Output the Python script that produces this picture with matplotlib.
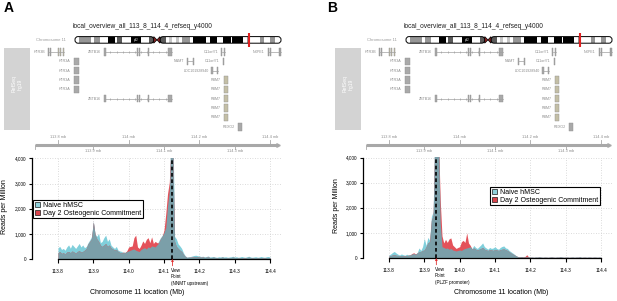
import numpy as np
import matplotlib
matplotlib.use('Agg')
import matplotlib.pyplot as plt
from matplotlib.patches import Rectangle, FancyBboxPatch, Polygon, Patch

plt.rcParams['font.family'] = ['Liberation Sans', 'DejaVu Sans']

# ---- data -------------------------------------------------------------
BIN_START = 113.800
BIN_STEP = 0.005

# panel A, viewpoint NNMT upstream
naive_a = [450, 500, 380, 420, 350, 480, 560, 430, 580, 500,
           420, 520, 620, 480, 560, 450, 500, 650, 760, 900,
           1500, 1000, 900, 1020, 650, 700, 850, 950, 700, 800,
           550, 480, 420, 500, 350, 320, 300, 260, 280, 300,
           320, 350, 380, 400, 350, 320, 300, 380, 420, 450,
           400, 480, 450, 520, 500, 480, 560, 720, 850, 950,
           1050, 1250, 2100, 2700, 5500, 5500, 900, 800, 600, 520,
           420, 250, 130, 80, 90, 100, 120, 140, 150, 130,
           120, 100, 110, 90, 100, 120, 80, 90, 100, 80,
           70, 90, 80, 100, 80, 90, 70, 80, 90, 110,
           80, 90, 70, 80, 100, 80, 70, 90, 110, 80,
           70, 80, 90, 70, 80, 100, 80, 70, 90, 100, 80]
day2_a = [250, 300, 220, 250, 200, 280, 300, 250, 320, 280,
          230, 300, 330, 280, 300, 350, 420, 600, 700, 820,
          1480, 960, 800, 700, 550, 500, 560, 620, 500, 560,
          450, 400, 360, 380, 300, 260, 240, 280, 250, 330,
          480, 500, 520, 850, 950, 480, 420, 550, 720, 620,
          780, 850, 650, 880, 620, 700, 650, 640, 800, 900,
          1150, 1800, 2600, 3050, 4500, 4200, 700, 500, 420, 350,
          300, 180, 100, 60, 70, 70, 80, 90, 100, 90,
          80, 70, 80, 60, 70, 80, 60, 60, 70, 60,
          50, 60, 60, 70, 60, 60, 50, 60, 60, 70,
          60, 60, 50, 60, 60, 50, 50, 60, 70, 60,
          50, 60, 60, 50, 60, 60, 50, 50, 60, 60, 50]

# panel B, viewpoint PLZF promoter
naive_b = [120, 160, 220, 260, 200, 150, 120, 160, 130, 110,
           150, 120, 140, 160, 180, 150, 220, 400, 300, 450,
           780, 500, 820, 700, 1650, 1850, 5500, 5500, 5000, 1400,
           450, 420, 380, 400, 350, 380, 320, 300, 280, 300,
           320, 300, 350, 380, 400, 420, 450, 380, 500, 420,
           380, 450, 520, 600, 450, 400, 350, 420, 380, 400,
           450, 380, 350, 420, 460, 480, 400, 380, 300, 250,
           200, 150, 90, 60, 50, 60, 40, 40, 50, 40,
           35, 40, 30, 45, 35, 60, 40, 30, 40, 35,
           30, 40, 50, 35, 30, 40, 35, 60, 40, 30,
           35, 40, 30, 35, 45, 30, 40, 35, 60, 30,
           35, 40, 30, 45, 35, 30, 40, 35, 30, 40, 30]
day2_b = [80, 100, 120, 130, 110, 100, 90, 100, 90, 80,
          100, 110, 120, 180, 210, 160, 200, 250, 260, 300,
          320, 450, 600, 650, 1500, 1700, 5000, 5500, 4800, 2300,
          880, 600, 740, 620, 760, 800, 520, 450, 380, 420,
          450, 650, 700, 620, 1000, 600, 500, 350, 400, 350,
          320, 350, 380, 420, 350, 320, 300, 330, 320, 300,
          340, 320, 300, 330, 350, 360, 330, 300, 250, 200,
          160, 120, 80, 50, 40, 50, 40, 60, 130, 40,
          30, 30, 25, 30, 30, 35, 30, 25, 30, 30,
          25, 30, 35, 30, 25, 30, 30, 35, 30, 25,
          30, 30, 25, 30, 30, 25, 30, 30, 35, 25,
          30, 30, 25, 30, 30, 25, 30, 30, 25, 30, 25]

VIEW_A = 114.124
VIEW_B = 113.934
VIEW_HEAD = "View\nPoint"
VIEW_NOTE_A = "(NNMT upstream)"
VIEW_NOTE_B = "(PLZF promoter)"

SERIES_NAMES = ["Naive hMSC", "Day 2 Osteogenic Commitment"]
TRACK_TITLE = "local_overview_all_113_8_114_4_refseq_y4000"

XTICKS = [113.8, 113.9, 114.0, 114.1, 114.2, 114.3, 114.4]
YTICKS = [0, 1000, 2000, 3000, 4000]
RULER_TOP = [113.8, 114.0, 114.2, 114.4]
RULER_BOTTOM = [113.9, 114.1, 114.3]

# chr11 cytobands (Mb)
BAND_START = [0, 2.8, 10.7, 12.7, 16.2, 21.7, 26.1, 27.2, 31.0, 36.4, 43.5, 48.8,
              55.7, 59.9, 61.7, 63.4, 65.9, 68.4, 70.4, 75.2, 77.1, 85.6, 88.3,
              92.8, 97.2, 102.1, 102.9, 110.4, 112.5, 114.5, 121.2, 123.9, 127.8, 130.8]
BAND_END = [2.8, 10.7, 12.7, 16.2, 21.7, 26.1, 27.2, 31.0, 36.4, 43.5, 48.8, 51.6,
            59.9, 61.7, 63.4, 65.9, 68.4, 70.4, 75.2, 77.1, 85.6, 88.3, 92.8,
            97.2, 102.1, 102.9, 110.4, 112.5, 114.5, 121.2, 123.9, 127.8, 130.8, 135.0]
BAND_STAIN = ['gneg', 'gpos50', 'gneg', 'gpos50', 'gneg', 'gpos100', 'gneg', 'gpos75',
              'gneg', 'gpos100', 'gneg', 'gpos75',
              'gpos75', 'gneg', 'gpos25', 'gneg', 'gpos25', 'gneg', 'gpos50', 'gneg',
              'gpos100', 'gneg', 'gpos100', 'gneg', 'gpos100', 'gneg', 'gpos100',
              'gneg', 'gpos50', 'gneg', 'gpos50', 'gneg', 'gpos50', 'gneg']
CEN_START, CEN_MID, CEN_END = 51.6, 53.7, 55.7
CHR_LEN = 135.0
MARK_POS = 114.1
BAND_TEXT = ("p12", 40.0)

# genes: name, row, start, end, exons (start, end, kind)
GENES = [
    ("HTR3B", 1, 113.772, 113.816, [(113.772, 113.775, 'c'), (113.777, 113.780, 'c'),
                                    (113.800, 113.802, 'u'), (113.806, 113.808, 'u'),
                                    (113.813, 113.816, 'u')]),
    ("ZBTB16", 1, 113.931, 114.122, [(113.931, 113.936, 'c'), (114.024, 114.026, 'c'),
                                     (114.028, 114.030, 'c'), (114.055, 114.057, 'c'),
                                     (114.112, 114.122, 'c')]),
    ("C11orf71", 1, 114.263, 114.272, [(114.262, 114.264, 'c'), (114.270, 114.272, 'c')]),
    ("NXPE1", 1, 114.394, 114.430, [(114.394, 114.396, 'c'), (114.400, 114.402, 'c'),
                                    (114.425, 114.427, 'c'), (114.429, 114.431, 'c')]),
    ("HTR3A", 2, 113.844, 113.860, [(113.844, 113.860, 'c')]),
    ("NNMT", 2, 114.166, 114.183, [(114.165, 114.167, 'c'), (114.181, 114.183, 'c')]),
    ("C11orf71", 2, 114.267, 114.269, [(114.267, 114.269, 'c')]),
    ("HTR3A", 3, 113.844, 113.860, [(113.844, 113.860, 'c')]),
    ("LOC101928940", 3, 114.235, 114.252, [(114.234, 114.236, 'c'), (114.250, 114.252, 'c')]),
    ("HTR3A", 4, 113.844, 113.860, [(113.844, 113.860, 'c')]),
    ("RBM7", 4, 114.271, 114.282, [(114.271, 114.282, 'u')]),
    ("HTR3A", 5, 113.845, 113.860, [(113.845, 113.860, 'c')]),
    ("RBM7", 5, 114.271, 114.282, [(114.271, 114.282, 'u')]),
    ("ZBTB16", 6, 113.931, 114.122, [(113.931, 113.936, 'c'), (114.024, 114.026, 'c'),
                                     (114.028, 114.030, 'c'), (114.055, 114.057, 'c'),
                                     (114.112, 114.122, 'c')]),
    ("RBM7", 6, 114.271, 114.282, [(114.271, 114.282, 'u')]),
    ("RBM7", 7, 114.271, 114.282, [(114.271, 114.282, 'u')]),
    ("RBM7", 8, 114.271, 114.282, [(114.271, 114.282, 'u')]),
    ("REXO2", 9, 114.310, 114.321, [(114.310, 114.321, 'c')]),
]

# ---- styles -----------------------------------------------------------
NAIVE_COL = '#80cfdb'
DAY2_COL = '#e4525a'
BOTH_COL = '#7b9fa9'
STAIN_COL = {'gneg': 'white', 'gpos25': '#c8c8c8', 'gpos50': '#969696',
             'gpos75': '#5a5a5a', 'gpos100': 'black'}
EXON_COL = {'c': '#a9a9a9', 'u': '#c4bfa6'}
GREY_TXT = '#8c8c8c'

W, H = 617, 301
fig = plt.figure(figsize=(W / 100, H / 100), dpi=100)


def add_px_axes(x0, y0, x1, y1):
    return fig.add_axes([x0 / W, 1 - y1 / H, (x1 - x0) / W, (y1 - y0) / H])


def mb(px):
    # panel pixel -> genomic Mb
    return 113.8 + (px - 58) / 353.3


def chr_px(px):
    # panel pixel -> position along the chromosome ideogram
    return (px - 75) / 1.526


overlay = add_px_axes(0, 0, W, H)
overlay.set_xlim(0, W)
overlay.set_ylim(H, 0)
overlay.axis('off')


def draw_ideogram(dx):
    ide = add_px_axes(dx + 70, 30, dx + 290, 50)
    ide.set_xlim(chr_px(70), chr_px(290))
    ide.set_ylim(50, 30)
    ide.axis('off')
    y0, hgt = 36.6, 6.6
    widths = [e - s for s, e in zip(BAND_START, BAND_END)]
    ide.bar(BAND_START, hgt, width=widths, bottom=y0, align='edge',
            color=[STAIN_COL[s] for s in BAND_STAIN], lw=0)
    asp = 1.526
    for s, e in [(0, CEN_START), (CEN_END, CHR_LEN)]:
        ide.add_patch(FancyBboxPatch((s, y0), e - s, hgt,
                                     boxstyle="round,pad=0,rounding_size=2.0",
                                     mutation_aspect=asp, fc='none', ec='black', lw=0.7))
    ide.add_patch(Polygon([(CEN_START, y0), (CEN_MID, y0 + hgt / 2), (CEN_START, y0 + hgt)],
                          closed=True, fc='#8b2323', ec='black', lw=0.5))
    ide.add_patch(Polygon([(CEN_END, y0), (CEN_MID, y0 + hgt / 2), (CEN_END, y0 + hgt)],
                          closed=True, fc='#8b2323', ec='black', lw=0.5))
    ide.text(BAND_TEXT[1], y0 + hgt / 2, BAND_TEXT[0], color='white', fontsize=2,
             ha='center', va='center')
    ide.plot([MARK_POS, MARK_POS], [32.5, 46.8], color='#e02020', lw=1.5,
             solid_capstyle='butt')


def draw_track(dx):
    tr = add_px_axes(dx, 44, dx + 300, 156)
    tr.set_xlim(mb(0), mb(300))
    tr.set_ylim(156, 44)
    tr.axis('off')
    for name, row, start, end, exons in GENES:
        y = 52 + 9.35 * (row - 1)
        if end - start > 0.003 and len(exons) > 1:
            tr.plot([start, end], [y, y], color='#a0a0a0', lw=0.5)
            if end - start > 0.1:
                pos = np.linspace(start, end, 12)[1:-1]
                tr.plot(pos, [y] * len(pos), ls='none', marker='|', ms=2,
                        mew=0.5, color='#a0a0a0')
        for s, e, kind in exons:
            w = max(e - s, 0.0035)
            tr.add_patch(Rectangle((s, y - 3.7), w, 7.4, fc=EXON_COL[kind],
                                   ec='#909090', lw=0.3))
        tr.text(start - 0.009, y, name, ha='right', va='center', fontsize=2.6,
                color=GREY_TXT)
    # genome axis
    tr.plot([mb(35), mb(278)], [144.6, 144.6], color='#a8a8a8', lw=2.2,
            solid_capstyle='butt')
    tr.plot([mb(278)], [144.6], marker='>', ms=2.5, color='#a8a8a8')
    tr.plot([mb(35), mb(35)], [144.6, 148.5], color='#a8a8a8', lw=0.6)
    for t in RULER_TOP:
        tr.plot([t, t], [143.5, 139.8], color='#a8a8a8', lw=0.6)
        tr.text(t, 139.4, f"{t:g} mb", ha='center', va='bottom', fontsize=2.8,
                color=GREY_TXT)
    for t in RULER_BOTTOM:
        tr.plot([t, t], [145.7, 148.8], color='#a8a8a8', lw=0.6)
        tr.text(t, 148.6, f"{t:g} mb", ha='center', va='top', fontsize=2.8,
                color=GREY_TXT)


def draw_signal(dx, dy, naive, day2, view, view_note, legend_xy):
    ax = add_px_axes(dx + 32, 158.5 + dy, dx + 282, 259 + dy)
    x = BIN_START + BIN_STEP * np.arange(len(naive))
    naive = np.array(naive, dtype=float)
    day2 = np.array(day2, dtype=float)
    ax.fill_between(x, 0, naive, color=NAIVE_COL, lw=0)
    ax.fill_between(x, 0, day2, color=DAY2_COL, lw=0)
    ax.fill_between(x, 0, np.minimum(naive, day2), color=BOTH_COL, lw=0)
    ax.set_xlim(mb(32), mb(282))
    ax.set_ylim(0, 4000)
    ax.set_axisbelow(True)
    ax.grid(True, ls=(0, (1, 2)), color='#cfcfcf', lw=0.6)
    ax.set_xticks(XTICKS)
    ax.set_xticklabels([f"{t:.1f}" for t in XTICKS])
    ax.set_yticks(YTICKS)
    ax.set_yticklabels([f"{t:,}" for t in YTICKS])
    ax.tick_params(axis='x', length=3, width=0.8, pad=4, labelsize=3.4)
    ax.tick_params(axis='y', length=2.2, width=0.8, pad=2, labelsize=3.4)
    for s in ['top', 'right']:
        ax.spines[s].set_visible(False)
    ax.spines['left'].set_bounds(0, 4000)
    ax.spines['bottom'].set_bounds(XTICKS[0], XTICKS[-1])
    for s in ['left', 'bottom']:
        ax.spines[s].set_linewidth(0.9)
    ax.axvline(view, color='black', ls=(0, (2.2, 1.6)), lw=1.2)
    ax.annotate('', xy=(view, 0), xytext=(view, -270), annotation_clip=False,
                arrowprops=dict(arrowstyle='-|>', color='#e03030', lw=0.6,
                                mutation_scale=3, shrinkA=0, shrinkB=0))
    # one px is about 40 reads per million on this axis
    ax.text(view - 0.004, -370, VIEW_HEAD, ha='left', va='top', fontsize=3.3,
            linespacing=1.3, clip_on=False)
    ax.text(view - 0.004, -960, view_note, ha='left', va='center', fontsize=3.3,
            clip_on=False)
    handles = [Patch(fc='#8fd0da', ec='#1a1a1a', lw=0.5),
               Patch(fc='#d9444c', ec='#1a1a1a', lw=0.5)]
    leg = ax.legend(handles, SERIES_NAMES, loc='upper left',
                    bbox_to_anchor=(legend_xy[0] / W, 1 - legend_xy[1] / H),
                    bbox_transform=fig.transFigure, fontsize=5, frameon=True,
                    fancybox=False, framealpha=1, edgecolor='black', borderpad=0.25,
                    handlelength=0.8, handleheight=0.8, handletextpad=0.4,
                    labelspacing=0.1, borderaxespad=0)
    leg.get_frame().set_linewidth(0.8)
    return ax


def draw_panel(dx, dy, letter, letter_x, naive, day2, view, view_note,
               legend_xy, xlabel_x):
    overlay.text(letter_x, 8.5, letter, fontsize=10, fontweight='bold',
                 ha='left', va='center')
    overlay.text(dx + 142, 26, TRACK_TITLE, fontsize=4.8, ha='center',
                 va='center', color='#222222')
    overlay.text(dx + 66, 40, "Chromosome 11", fontsize=3, ha='right',
                 va='center', color='#9a9a9a')
    overlay.add_patch(Rectangle((dx + 4, 48), 26, 82, fc='#d3d3d3', ec='none'))
    overlay.text(dx + 17, 84, "RefSeq\nhg19", rotation=90, fontsize=3.6,
                 color='white', ha='center', va='center', linespacing=1.1)
    overlay.text(dx + 5, 207 + dy, "Reads per Million", rotation=90, fontsize=5,
                 ha='center', va='center')
    overlay.text(xlabel_x, 293, "Chromosome 11 location (Mb)", fontsize=5,
                 ha='center', va='center')
    draw_ideogram(dx)
    draw_track(dx)
    draw_signal(dx, dy, naive, day2, view, view_note, legend_xy)


draw_panel(0, 0, "A", 4, naive_a, day2_a, VIEW_A, VIEW_NOTE_A, (33, 200), 137)
draw_panel(331, -1, "B", 327, naive_b, day2_b, VIEW_B, VIEW_NOTE_B, (490, 187), 501)

fig.savefig('out.png', dpi=100)
